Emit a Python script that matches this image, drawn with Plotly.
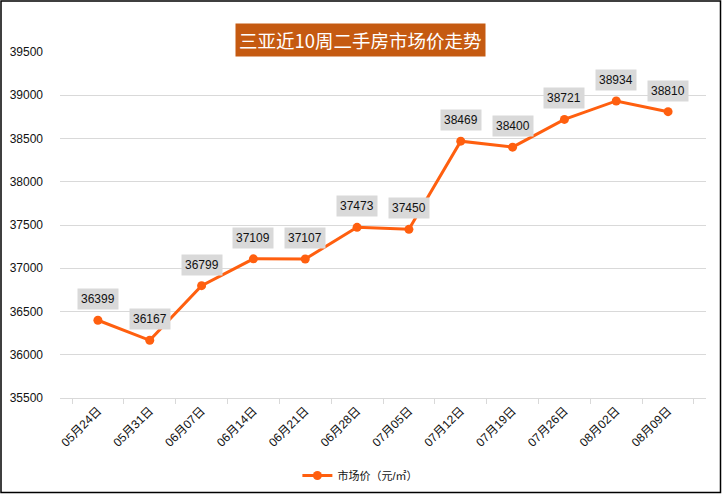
import plotly.graph_objects as go

categories = ["05月24日", "05月31日", "06月07日", "06月14日", "06月21日", "06月28日",
              "07月05日", "07月12日", "07月19日", "07月26日", "08月02日", "08月09日"]
prices = [36399, 36167, 36799, 37109, 37107, 37473, 37450, 38469, 38400, 38721, 38934, 38810]
y_ticks = [35500, 36000, 36500, 37000, 37500, 38000, 38500, 39000, 39500]

FONT = "Liberation Sans, Noto Sans CJK SC, sans-serif"
ORANGE = "#FF5F0F"

fig = go.Figure()
fig.add_trace(go.Scatter(
    x=categories, y=prices, mode="lines+markers",
    name="市场价（元/㎡）",
    line=dict(color=ORANGE, width=3),
    marker=dict(color=ORANGE, size=9),
))

for c, v in zip(categories, prices):
    fig.add_annotation(x=c, y=v, text=str(v), showarrow=False, yshift=21,
                       bgcolor="#D9D9D9", borderpad=3,
                       font=dict(family=FONT, size=12, color="#111111"))

fig.add_annotation(xref="paper", yref="paper", x=(360.5 - 60) / 646, y=1.0, yshift=29,
                   text="三亚近10周二手房市场价走势", showarrow=False,
                   bgcolor="#C55A11", borderpad=3,
                   font=dict(family="Noto Sans CJK SC", size=18.5, color="white"))

fig.update_layout(
    width=722, height=494,
    margin=dict(l=60, r=16, t=52, b=96, autoexpand=False),
    paper_bgcolor="white", plot_bgcolor="white",
    showlegend=True,
    legend=dict(orientation="h", x=0.465, xanchor="center", y=(398 - 461) / 346, yanchor="top",
                font=dict(family=FONT, size=11, color="#111111")),
    font=dict(family=FONT, size=12, color="#111111"),
    shapes=[dict(type="rect", xref="paper", yref="paper", x0=-59 / 646, x1=1 + 14.5 / 646,
                 y0=-94.5 / 346, y1=1 + 51 / 346, line=dict(color="black", width=1.5))],
)
fig.update_xaxes(type="category", tickangle=-45, tickson="boundaries", ticks="outside",
                 ticklen=5, tickcolor="#D9D9D9", showline=True, linecolor="#D9D9D9",
                 linewidth=1, showgrid=False, automargin=False,
                 tickfont=dict(family=FONT, size=12, color="#111111"))
fig.update_yaxes(range=[35500, 39500], tickvals=y_ticks, ticktext=[str(t) for t in y_ticks],
                 showgrid=True, automargin=False,
                 gridcolor="#D9D9D9", gridwidth=1, zeroline=False, showline=False,
                 ticklabelstandoff=16,
                 tickfont=dict(family=FONT, size=12, color="#111111"))

fig.write_html("out.html", config={"displayModeBar": False},
               post_script="document.body.style.margin='0';document.body.style.overflow='hidden';")
